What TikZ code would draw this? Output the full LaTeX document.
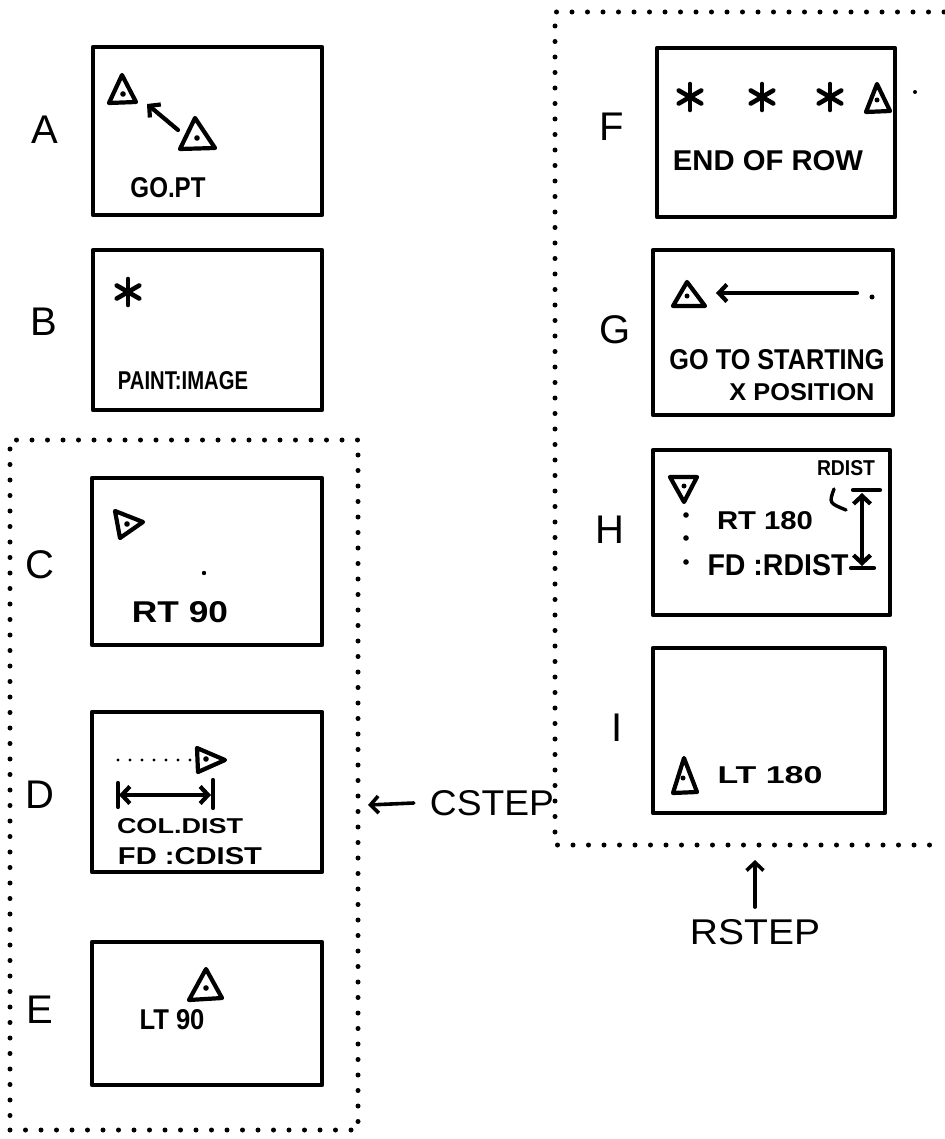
\documentclass[tikz,border=0pt]{standalone}
\usepackage{fontspec}
\setmainfont{Liberation Sans}
\usetikzlibrary{arrows.meta}
\newcommand\hw[3]{\resizebox{#1pt}{#2pt}{\bfseries #3}}
\newcommand\hr[3]{\resizebox{#1pt}{#2pt}{#3}}
\newcommand\astk[1]{\foreach \a in {90,30,150} \draw[ink,line width=4.6pt] (#1) ++(\a:13) -- ++(\a+180:26);}
\begin{document}
\begin{tikzpicture}[x=1pt,y=-1pt,
  box/.style={draw,line width=4.4pt,line join=round,inner sep=0pt,outer sep=0pt,anchor=north west},
  frame/.style={line width=5pt,line cap=round,dash pattern=on 0pt off 15.5pt},
  ink/.style={line width=4.2pt,line cap=round,line join=round},
  lbl/.style={font=\fontsize{40}{40}\selectfont,inner sep=0pt},
  txt/.style={inner sep=0pt},
  tip/.style={-{Straight Barb[length=8pt,width=17pt]}},
  dtip/.style={{Straight Barb[length=8pt,width=17pt]}-{Straight Barb[length=8pt,width=17pt]}}
]
\useasboundingbox (0,0) rectangle (944,1139);

% frames
\node[draw,frame,inner sep=0pt,outer sep=0pt,minimum width=348pt,minimum height=690pt,anchor=north west] (LF) at (10,440) {};
\draw[frame] (944,12) -- (555,12) -- (555,845) -- (944,845);
\coordinate (rfb) at (755,860);
\coordinate (lfr) at (368,805);

% boxes
\node[box,minimum width=229pt,minimum height=168pt] (A) at (93,47) {};
\node[box,minimum width=229pt,minimum height=160pt] (B) at (93,250) {};
\node[box,minimum width=230pt,minimum height=167pt] (C) at (92,478) {};
\node[box,minimum width=230pt,minimum height=160pt] (D) at (92,712) {};
\node[box,minimum width=230pt,minimum height=143pt] (E) at (92,942) {};
\node[box,minimum width=238pt,minimum height=169pt] (F) at (657,48) {};
\node[box,minimum width=240pt,minimum height=165pt] (G) at (653,250) {};
\node[box,minimum width=237pt,minimum height=165pt] (H) at (653,450) {};
\node[box,minimum width=232pt,minimum height=165pt] (I) at (653,648) {};

% labels
\node[lbl] (lA) at (45,130) {A};
\node[lbl] (lB) at (44,322) {B};
\node[lbl] (lC) at (40,565) {C};
\node[lbl] (lD) at (40,795) {D};
\node[lbl] (lE) at (40,1010) {E};
\node[lbl] (lF) at (612,127) {F};
\node[lbl] (lG) at (615,330) {G};
\node[lbl] (lH) at (610,530) {H};
\node[lbl] (lI) at (617,728) {I};

% A
\draw[ink] (122,75) -- (109,103) -- (136,102) -- cycle; \fill (123,94) circle (2.8);
\draw[ink] (195,118) -- (180,149) -- (215,148) -- cycle; \fill (197,138) circle (2.8);
\draw[ink,tip] (178,130) -- (147,104);
\node[txt] (tA) at (168,188) {\hw{75}{20}{GO.PT}};

% B
\astk{128,292}
\node[txt] (tB) at (183,381) {\hw{130}{18}{PAINT:IMAGE}};

% C
\draw[ink] (143,522) -- (115,511) -- (120,538) -- cycle; \fill (127,524) circle (2.8);
\fill (204,573) circle (2.2);
\node[txt] (tC) at (180,612) {\hw{96}{21}{RT 90}};

% D
\draw[line width=3.4pt,line cap=round,dash pattern=on 0pt off 12pt] (118,760) -- (190,760);
\draw[ink] (225,760) -- (197,748) -- (198,772) -- cycle; \fill (206,759) circle (2.8);
\draw[ink,dtip] (119,795) -- (211,795);
\draw[ink] (118,783) -- (118,807);
\draw[ink] (213,780) -- (213,808);
\node[txt] (tD1) at (180,826) {\hw{126}{15}{COL.DIST}};
\node[txt] (tD2) at (190,856) {\hw{144}{17}{FD :CDIST}};

% E
\draw[ink] (206,969) -- (189,1000) -- (222,998) -- cycle; \fill (206,988) circle (2.8);
\node[txt] (tE) at (172,1020) {\hw{65}{20}{LT 90}};

% F
\astk{690,97}
\astk{762,97}
\astk{830,97}
\draw[ink] (877,84) -- (866,112) -- (890,111) -- cycle; \fill (877,100) circle (2.5);
\fill (915,92) circle (2);
\node[txt] (tF) at (768,161) {\hw{190}{20}{END OF ROW}};

% G
\draw[ink] (687,282) -- (673,306) -- (705,306) -- cycle; \fill (687,296) circle (2.5);
\draw[ink,tip] (857,293) -- (716,293);
\fill (872,297) circle (2.5);
\node[txt] (tG1) at (777,360) {\hw{215}{20}{GO TO STARTING}};
\node[txt] (tG2) at (802,392) {\hw{145}{17}{X POSITION}};

% H
\draw[ink] (670,477) -- (697,477) -- (684,502) -- cycle; \fill (684,486) circle (2.5);
\fill (686,515) circle (2.8);
\fill (686,538) circle (2.8);
\fill (686,562) circle (2.8);
\node[txt] (tH0) at (846,468) {\hw{58}{15}{RDIST}};
\draw[ink,line width=3.4pt] (834,489) .. controls (829,503) .. (846,510);
\draw[ink] (853,490) -- (880,490);
\draw[ink,dtip] (862,493) -- (862,566);
\draw[ink] (851,568) -- (874,568);
\node[txt] (tH1) at (765,521) {\hw{96}{18}{RT 180}};
\node[txt] (tH2) at (778,565) {\hw{141}{21}{FD :RDIST}};

% I
\draw[ink] (684,758) -- (673,793) -- (697,792) -- cycle; \fill (683,778) circle (2.5);
\node[txt] (tI) at (770,775) {\hw{105}{17}{LT 180}};

% step labels
\node[txt] (cstep) at (492,803) {\hr{124}{25}{CSTEP}};
\draw[ink,line width=3.6pt,tip] ([xshift=-16pt]cstep.west) -- (lfr);
\node[txt] (rstep) at (755,932) {\hr{130}{25}{RSTEP}};
\draw[ink,line width=3.6pt,tip] ([yshift=12pt]rstep.north) -- (rfb);
\end{tikzpicture}
\end{document}
